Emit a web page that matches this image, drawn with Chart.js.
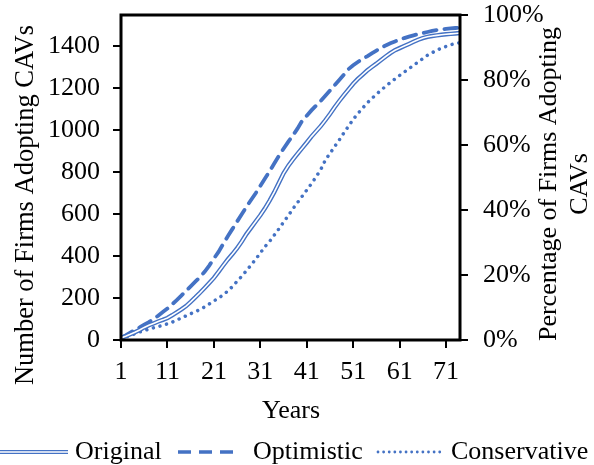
<!DOCTYPE html>
<html>
<head>
<meta charset="utf-8">
<script src="https://cdn.jsdelivr.net/npm/chart.js@4"></script>
<style>
html,body{margin:0;padding:0;background:#fff;}
#wrap{position:relative;width:594px;height:465px;}
</style>
</head>
<body>
<div id="wrap"><canvas id="c" width="594" height="465"></canvas></div>
<script>
const years = [1,2,3,4,5,6,7,8,9,10,11,12,13,14,15,16,17,18,19,20,21,22,23,24,25,26,27,28,29,30,31,32,33,34,35,36,37,38,39,40,41,42,43,44,45,46,47,48,49,50,51,52,53,54,55,56,57,58,59,60,61,62,63,64,65,66,67,68,69,70,71,72,73,74];
const original = [10,18,27,37,48,60,70,79,88,96,105,118,132,146,162,182,203,225,248,272,296,325,355,384,410,438,470,505,535,565,595,628,665,705,750,795,830,860,888,915,942,970,995,1020,1048,1078,1110,1140,1168,1195,1222,1245,1265,1285,1302,1318,1335,1352,1368,1382,1392,1402,1412,1422,1432,1440,1446,1450,1453,1456,1458,1460,1462,1464];
const optimistic = [10,22,35,48,60,73,85,100,116,133,150,170,190,212,234,256,278,300,325,355,388,420,458,495,530,565,600,635,668,700,735,770,805,842,878,912,945,975,1008,1045,1070,1095,1118,1140,1165,1190,1215,1240,1266,1292,1310,1326,1340,1353,1367,1380,1393,1405,1415,1424,1432,1440,1447,1453,1459,1464,1469,1474,1478,1481,1484,1486,1488,1489];
const conservative = [8,14,22,30,38,45,52,58,64,70,77,85,95,105,115,125,135,145,158,172,186,200,215,234,255,280,304,330,357,385,415,445,470,500,530,562,592,625,655,685,715,745,778,812,858,890,922,954,988,1020,1052,1080,1105,1130,1152,1172,1192,1210,1228,1245,1262,1278,1294,1310,1326,1342,1358,1370,1382,1392,1400,1408,1414,1418];
const xTicks = [1,11,21,31,41,51,61,71];
const leftTicks = [0,200,400,600,800,1000,1200,1400];
const rightTicks = [0,20,40,60,80,100];
const seriesNames = ['Original','Optimistic','Conservative'];
const xTitle = 'Years';
const leftTitle = 'Number of Firms Adopting CAVs';
const rightTitle = ['Percentage of Firms Adopting','CAVs'];

const BLUE = '#4472C4';
const FONT = '"Liberation Serif", "Times New Roman", serif';
const pts = arr => years.map((x,i)=>({x:x, y:arr[i]}));

const decor = {
  id:'decor',
  afterDatasetsDraw(chart){
    const ctx = chart.ctx, a = chart.chartArea;
    ctx.save();
    ctx.strokeStyle = '#000';
    ctx.lineWidth = 3;
    ctx.strokeRect(a.left, a.top, a.right-a.left, a.bottom-a.top);
    ctx.restore();
  },
  afterDraw(chart){
    const ctx = chart.ctx;
    ctx.save();
    ctx.fillStyle = '#000';
    ctx.font = '26px ' + FONT;
    ctx.textAlign = 'center';
    ctx.textBaseline = 'alphabetic';
    ctx.fillText(xTitle, 291, 418);
    ctx.save();
    ctx.translate(33, 205);
    ctx.rotate(-Math.PI/2);
    ctx.font = '26.5px ' + FONT;
    ctx.fillText(leftTitle, 0, 0);
    ctx.restore();
    ctx.save();
    ctx.translate(556, 184);
    ctx.rotate(-Math.PI/2);
    ctx.fillText(rightTitle[0], 0, 0);
    ctx.fillText(rightTitle[1], 0, 31);
    ctx.restore();
    const ly = 452, tb = 459;
    ctx.textAlign = 'left';
    ctx.lineCap = 'butt';
    ctx.strokeStyle = BLUE; ctx.lineWidth = 4.2;
    ctx.beginPath(); ctx.moveTo(0, ly); ctx.lineTo(68, ly); ctx.stroke();
    ctx.strokeStyle = '#fff'; ctx.lineWidth = 1.6;
    ctx.beginPath(); ctx.moveTo(0, ly); ctx.lineTo(68, ly); ctx.stroke();
    ctx.fillText(seriesNames[0], 75, tb);
    ctx.strokeStyle = BLUE; ctx.lineWidth = 3.6;
    ctx.setLineDash([13, 8]);
    ctx.beginPath(); ctx.moveTo(178, ly); ctx.lineTo(235, ly); ctx.stroke();
    ctx.fillText(seriesNames[1], 253, tb);
    ctx.lineCap = 'round'; ctx.lineWidth = 2.8;
    ctx.setLineDash([0.01, 5.6]);
    ctx.beginPath(); ctx.moveTo(378, ly); ctx.lineTo(440, ly); ctx.stroke();
    ctx.setLineDash([]);
    ctx.fillText(seriesNames[2], 451, tb);
    ctx.restore();
  }
};

const tickFont = {family: FONT, size: 26};
const fitY = w => s => { s.width = w; s.paddingTop = 0; s.paddingBottom = 0; };

new Chart(document.getElementById('c'), {
  type: 'line',
  data: {
    datasets: [
      {label: seriesNames[0], data: pts(original), borderColor: '#fff', borderWidth: 1.6, pointRadius: 0, tension: 0, order: 0, yAxisID: 'y'},
      {label: seriesNames[0], data: pts(original), borderColor: BLUE, borderWidth: 4.4, pointRadius: 0, tension: 0, order: 1, yAxisID: 'y'},
      {label: seriesNames[1], data: pts(optimistic), borderColor: BLUE, borderWidth: 3.8, borderDash: [13, 8], borderCapStyle: 'round', pointRadius: 0, tension: 0, order: 2, yAxisID: 'y'},
      {label: seriesNames[2], data: pts(conservative), borderColor: BLUE, borderWidth: 3.5, borderDash: [0.01, 6.8], borderCapStyle: 'round', pointRadius: 0, tension: 0, order: 3, yAxisID: 'y'}
    ]
  },
  options: {
    responsive: false,
    animation: false,
    devicePixelRatio: 1,
    layout: {padding: {top: 15, left: 0, right: 0, bottom: 0}},
    plugins: {legend: {display: false}, tooltip: {enabled: false}},
    scales: {
      x: {
        type: 'linear', min: 1, max: 74,
        afterBuildTicks: s => { s.ticks = xTicks.map(v => ({value: v})); },
        afterFit: s => { s.height = 125; s.paddingLeft = 0; s.paddingRight = 0; },
        grid: {drawOnChartArea: false, drawTicks: true, tickLength: 8, color: '#000', lineWidth: 2},
        border: {display: false},
        ticks: {color: '#000', font: tickFont, padding: 9, maxRotation: 0, autoSkip: false, callback: v => String(v)}
      },
      y: {
        type: 'linear', position: 'left', min: 0, max: 1550,
        afterBuildTicks: s => { s.ticks = leftTicks.map(v => ({value: v})); },
        afterFit: fitY(121),
        grid: {drawOnChartArea: false, drawTicks: true, tickLength: 8, color: '#000', lineWidth: 2},
        border: {display: false},
        ticks: {color: '#000', font: tickFont, padding: 13, callback: v => String(v)}
      },
      y1: {
        type: 'linear', position: 'right', min: 0, max: 100,
        afterBuildTicks: s => { s.ticks = rightTicks.map(v => ({value: v})); },
        afterFit: fitY(134),
        grid: {drawOnChartArea: false, drawTicks: true, tickLength: 8, color: '#000', lineWidth: 2},
        border: {display: false},
        ticks: {color: '#000', font: tickFont, padding: 15, callback: v => v + '%'}
      }
    }
  },
  plugins: [decor]
});
</script>
</body>
</html>
